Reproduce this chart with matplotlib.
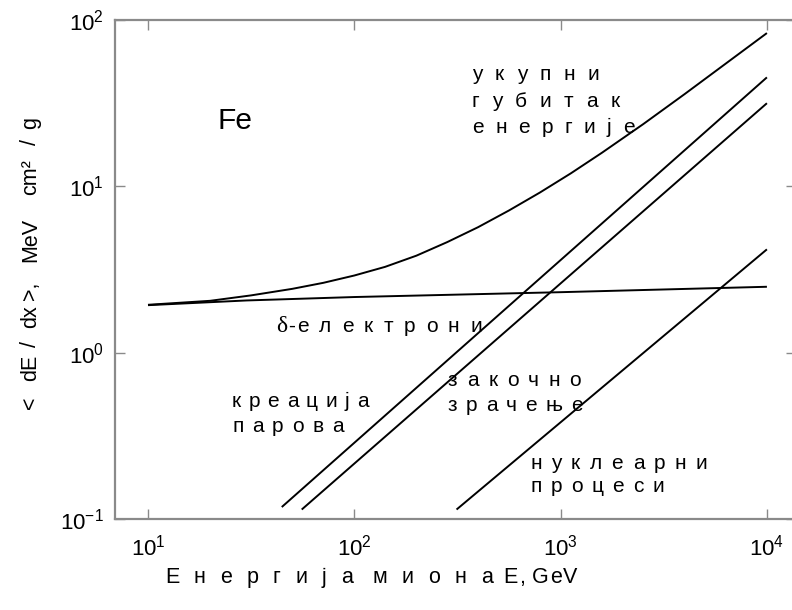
import matplotlib
matplotlib.use('Agg')
import matplotlib.pyplot as plt

plt.rcParams['font.family'] = ['Liberation Sans', 'DejaVu Sans']
plt.rcParams['mathtext.fontset'] = 'custom'
plt.rcParams['mathtext.rm'] = 'Liberation Sans'
plt.rcParams['mathtext.it'] = 'Liberation Sans:italic'

W, H = 792, 610

# energy losses of muons in iron, MeV cm^2 / g
energy_ion = [10, 30, 100, 1000, 10000]
ionization = [1.93, 2.06, 2.16, 2.31, 2.49]

energy_pair = [44.5, 10000]
pair = [0.118, 45.2]

energy_brems = [55.6, 10000]
brems = [0.114, 31.6]

energy_nucl = [313, 10000]
nuclear = [0.114, 4.18]

energy_total = [10, 20, 31.6, 50.1, 70.8, 100, 141, 200, 282, 398, 562, 794,
                1122, 1585, 2512, 3981, 6310, 10000]
total = [1.94, 2.05, 2.21, 2.42, 2.63, 2.91, 3.28, 3.83, 4.62, 5.68, 7.16, 9.18,
         11.98, 15.91, 23.64, 35.77, 54.64, 83.45]

GRAY = '#8a8a8a'

fig = plt.figure(figsize=(W / 100, H / 100), dpi=100)
ax = fig.add_axes([115 / W, 1 - 519 / H, (796 - 115) / W, (519 - 20) / H])
ax.set_xscale('log')
ax.set_yscale('log')

for e, v in [(energy_ion, ionization), (energy_pair, pair), (energy_brems, brems),
             (energy_nucl, nuclear), (energy_total, total)]:
    ax.plot(e, v, color='black', lw=1.4, solid_capstyle='butt', solid_joinstyle='round')

ax.set_xlim(10 ** 0.840, 10 ** 4.141)
ax.set_ylim(0.1, 100)
ax.minorticks_off()
for s in ax.spines.values():
    s.set_color(GRAY)
    s.set_linewidth(1.6)
ax.tick_params(which='major', direction='in', length=7, width=1, color=GRAY,
               top=True, right=True, labelsize=16)
ax.tick_params(axis='x', pad=11)
ax.tick_params(axis='y', pad=8)

renderer = fig.canvas.get_renderer()


def tracked(x, y, s, size=15, track=9.5, space=4, **kw):
    # draw letter-spaced text; x, y are pixels from the top-left, y is the baseline
    for ch in s:
        if ch == ' ':
            x += space
            continue
        t = fig.text(x / W, 1 - y / H, ch, fontsize=size, va='baseline', ha='left', **kw)
        x += t.get_window_extent(renderer).width + track
    return x


fig.text(218 / W, 1 - 129 / H, 'Fe', fontsize=21.5, va='baseline', ha='left')

tracked(472, 80, 'укупни', track=12.5)
tracked(472, 107, 'губитак', track=12.5)
tracked(472, 133, 'енергије', track=11.5)

x = 276
t = fig.text(x / W, 1 - 332 / H, 'δ', fontsize=17, va='baseline', ha='left',
             family='Liberation Serif')
x += t.get_window_extent(renderer).width + 1
x = tracked(x, 332, '-', track=2)
tracked(x, 332, 'електрони', track=10.5)

tracked(232, 407, 'креација', track=7.5)
tracked(232, 432, 'парова', track=8.5)
tracked(448, 386, 'закочно', track=9.5)
tracked(448, 411, 'зрачење', track=8.5)
tracked(530, 469, 'нуклеарни', track=9.5)
tracked(530, 492, 'процеси', track=9)

# axis titles
x = tracked(165, 583, 'Енергија миона', size=15.5, track=14.5, space=5)
tracked(x - 4, 583, 'E, GeV', size=15.5, track=1.5, space=5)

ylabel_parts = [('<', 403), ('dE', 368), ('/', 344), ('dx', 317), ('>,', 291),
                ('MeV', 240), ('cm²', 177), ('/', 142), ('g', 123)]
for part, yc in ylabel_parts:
    fig.text(36 / W, 1 - yc / H, part, fontsize=15.5, rotation=90,
             rotation_mode='anchor', ha='center', va='baseline')

fig.savefig('out.png', dpi=100)
